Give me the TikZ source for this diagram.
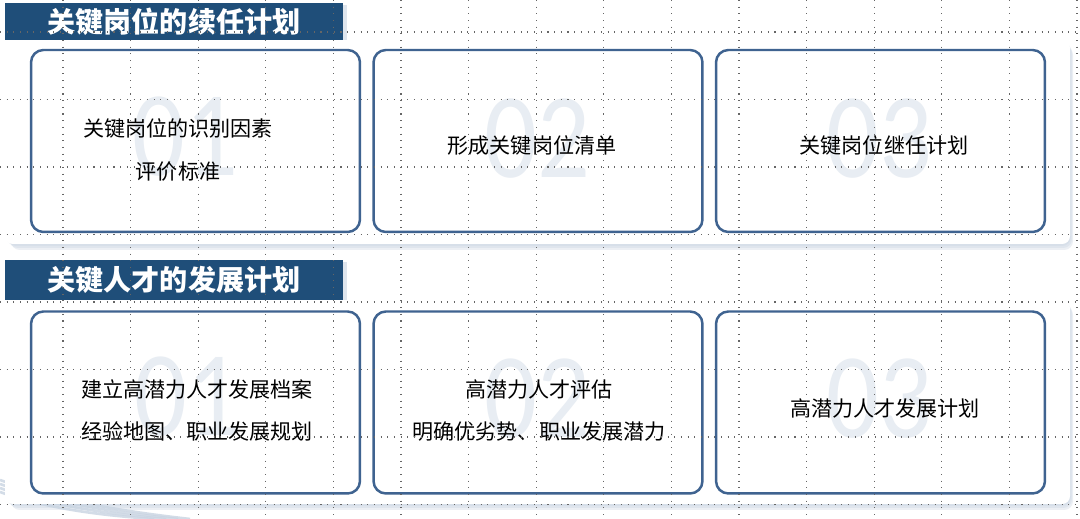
\documentclass[tikz,border=0pt]{standalone}
\usepackage{fontspec}
\setmainfont{Noto Sans CJK SC}
\newfontfamily\numfont{Carlito}
\usetikzlibrary{positioning}
\definecolor{navy}{HTML}{1F4E79}
\definecolor{boxline}{HTML}{3F6390}
\definecolor{numgray}{HTML}{E8EDF3}
\definecolor{shadowblue}{HTML}{C9D4E2}

\begin{document}
\begin{tikzpicture}[x=0.02cm,y=-0.02cm,
  panel/.style={fill=white,rounded corners=4.5pt},
  panelshadow/.style={fill=shadowblue,rounded corners=5pt,opacity=0.35},
  banner/.style={fill=navy,text=white,font=\fontsize{16}{18}\selectfont\bfseries,minimum width=6.76cm,inner sep=0pt},
  card/.style={draw=boxline,line width=1.4pt,rounded corners=7pt,minimum width=6.58cm,minimum height=3.64cm,inner sep=0pt},
  bignum/.style={text=numgray,font=\numfont\fontsize{69}{69}\selectfont,inner sep=0pt,xscale=0.86,transform shape},
  cardtext/.style={font=\fontsize{12}{24}\selectfont,align=center,text=black},
  guide/.style={gray!80!black,line width=0.6pt,dash pattern=on 0.6pt off 3.2pt}]
  \fill[white] (0,0) rectangle (1080,519);
  \useasboundingbox (0,0) rectangle (1080,519);
  % swoosh, bottom left
  \foreach \s in {0,4,8,12}
    \draw[shadowblue,line width=1.5pt,opacity=0.8] (0,{480+\s}) .. controls (50,{498+\s}) and (110,{510+\s/2}) .. ({190-\s*3},519);
  % panels with soft shadows
  \foreach \d in {2,4,6}
    \fill[panelshadow] ({5+\d},{40+\d}) rectangle ({1070+\d/2},{244+\d});
  \fill[panel] (5,40) rectangle (1070,244);
  \foreach \d in {2,4,6}
    \fill[panelshadow] ({5+\d},{300+\d}) rectangle ({1070+\d/2},{504+\d});
  \fill[panel] (5,300) rectangle (1070,504);
  % section titles
  \fill[shadowblue,opacity=0.6] (343,5) rectangle (347,40);
  \node[banner,minimum height=0.74cm] (head1) at (174,21.5) {关键岗位的续任计划};
  \fill[shadowblue,opacity=0.6] (343,262) rectangle (347,300);
  \node[banner,minimum height=0.8cm] (head2) at (174,280) {关键人才的发展计划};
  % top row
  \node[card] (k1) at (195.5,141) {};
  \node[card] (k2) at (538,141) {};
  \node[card] (k3) at (880.5,141) {};
  \node[bignum] (n1) at (185,137) {01};
  \node[bignum] (n2) at (537,139) {02};
  \node[bignum] (n3) at (879,139) {03};
  \node[cardtext] (t1) at (178,150) {关键岗位的识别因素\\评价标准};
  \node[cardtext] (t2) at (532,145) {形成关键岗位清单};
  \node[cardtext] (t3) at (884,145) {关键岗位继任计划};
  % bottom row
  \node[card] (k4) at (195.5,402.5) {};
  \node[card] (k5) at (538,402.5) {};
  \node[card] (k6) at (880.5,402.5) {};
  \node[bignum] (n4) at (187,397) {01};
  \node[bignum] (n5) at (537,399) {02};
  \node[bignum] (n6) at (879,399) {03};
  \node[cardtext] (t4) at (197,410.5) {建立高潜力人才发展档案\\经验地图、职业发展规划};
  \node[cardtext] (t5) at (539,410.5) {高潜力人才评估\\明确优劣势、职业发展潜力};
  \node[cardtext] (t6) at (885,408) {高潜力人才发展计划};
  % guide grid on top
  \foreach \gx in {0,...,15}
    \draw[guide] ({63+67.6*\gx},0) -- ({63+67.6*\gx},519);
  \foreach \gy in {0,...,7}
    \draw[guide] (0,{32+67.5*\gy}) -- (1080,{32+67.5*\gy});
\end{tikzpicture}
\end{document}
